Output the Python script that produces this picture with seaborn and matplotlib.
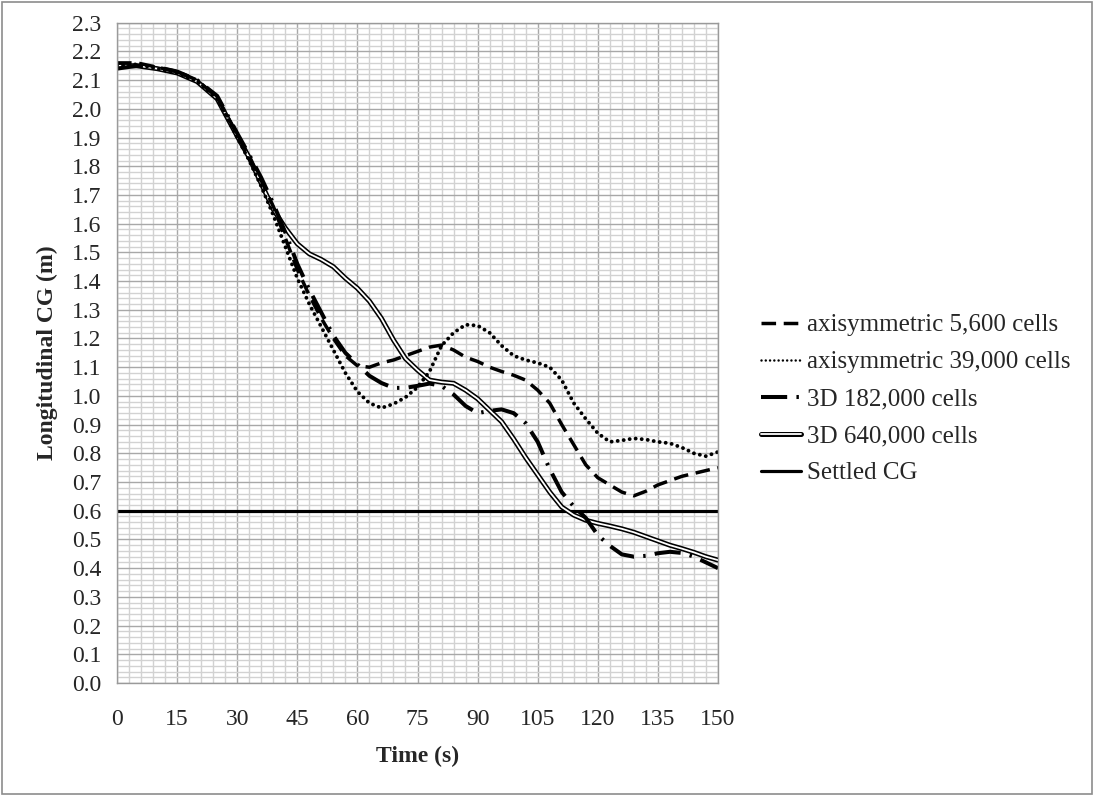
import numpy as np
import pandas as pd
import matplotlib
matplotlib.use("Agg")
import matplotlib.pyplot as plt
from matplotlib.lines import Line2D
from matplotlib.legend_handler import HandlerTuple
from matplotlib.patches import Rectangle
from matplotlib.ticker import MultipleLocator
import seaborn as sns

# ---------------- data ----------------
time_s = [0, 5, 10, 15, 20, 25, 30, 33, 36, 39, 42, 45, 48, 51, 54, 57, 60, 63, 66, 69,
          72, 75, 78, 81, 84, 87, 90, 93, 96, 99, 102, 105, 108, 111, 114, 117, 120, 123,
          126, 129, 132, 135, 138, 141, 144, 147, 150]

axi_5600 = [2.16, 2.16, 2.145, 2.13, 2.10, 2.04, 1.91, 1.83, 1.75, 1.66, 1.55, 1.44, 1.35,
            1.27, 1.20, 1.14, 1.105, 1.10, 1.115, 1.125, 1.14, 1.155, 1.17, 1.177, 1.16,
            1.135, 1.12, 1.10, 1.085, 1.072, 1.055, 1.02, 0.975, 0.90, 0.83, 0.76, 0.715,
            0.69, 0.665, 0.652, 0.668, 0.69, 0.705, 0.72, 0.73, 0.74, 0.75]

axi_39000 = [2.15, 2.155, 2.14, 2.125, 2.095, 2.035, 1.90, 1.82, 1.73, 1.63, 1.52, 1.41, 1.32,
             1.24, 1.16, 1.08, 1.015, 0.975, 0.958, 0.972, 0.995, 1.03, 1.085, 1.175, 1.22,
             1.248, 1.245, 1.22, 1.175, 1.14, 1.125, 1.115, 1.10, 1.055, 0.975, 0.92, 0.87,
             0.84, 0.845, 0.852, 0.848, 0.84, 0.835, 0.82, 0.80, 0.79, 0.805]

d3_182000 = [2.14, 2.15, 2.145, 2.13, 2.10, 2.045, 1.915, 1.84, 1.76, 1.67, 1.57, 1.46, 1.37,
             1.29, 1.21, 1.15, 1.11, 1.07, 1.045, 1.028, 1.028, 1.035, 1.043, 1.035, 1.005,
             0.965, 0.94, 0.948, 0.953, 0.94, 0.905, 0.84, 0.745, 0.665, 0.615, 0.575, 0.515,
             0.478, 0.448, 0.44, 0.443, 0.452, 0.457, 0.453, 0.44, 0.42, 0.40]

d3_640000 = [2.15, 2.15, 2.14, 2.125, 2.095, 2.035, 1.905, 1.83, 1.74, 1.65, 1.585, 1.53, 1.495,
             1.475, 1.45, 1.41, 1.375, 1.33, 1.27, 1.195, 1.13, 1.09, 1.055, 1.048, 1.044,
             1.02, 0.99, 0.95, 0.91, 0.85, 0.785, 0.725, 0.665, 0.613, 0.585, 0.567, 0.556,
             0.547, 0.537, 0.525, 0.51, 0.495, 0.48, 0.468, 0.455, 0.44, 0.428]

settled_cg = 0.6

labels = ["axisymmetric 5,600 cells", "axisymmetric 39,000 cells", "3D 182,000 cells",
          "3D 640,000 cells", "Settled CG"]

df = pd.DataFrame({"t": time_s, "a5600": axi_5600, "a39000": axi_39000,
                   "d182": d3_182000, "d640": d3_640000})
df["settled"] = settled_cg

# ---------------- style ----------------
sns.set_style("white")
plt.rcParams["font.family"] = ["Liberation Serif", "DejaVu Serif"]
FS = 17

fig = plt.figure(figsize=(10.94, 7.96), dpi=100)
ax = fig.add_axes([117 / 1094, 1 - 683 / 796, (718 - 117) / 1094, (683 - 22.7) / 796])

ax.set_xlim(0, 150)
ax.set_ylim(0, 2.3)
ax.xaxis.set_major_locator(MultipleLocator(15))
ax.xaxis.set_minor_locator(MultipleLocator(3))
ax.yaxis.set_major_locator(MultipleLocator(0.1))
ax.yaxis.set_minor_locator(MultipleLocator(0.02))
ax.grid(which="minor", color="#d2d2d2", lw=1.0)
ax.grid(which="major", color="#a8a8a8", lw=1.0)
ax.set_axisbelow(True)
for s in ax.spines.values():
    s.set_color("#9a9a9a")
    s.set_linewidth(1.0)
ax.tick_params(which="major", length=5.5, width=1.0, color="#9a9a9a",
               labelsize=FS, direction="out")
ax.tick_params(axis="x", pad=13)
ax.tick_params(axis="y", pad=6)
ax.tick_params(which="minor", length=0)
ax.yaxis.set_major_formatter(matplotlib.ticker.FormatStrFormatter("%.1f"))

# ---------------- lines ----------------
sns.lineplot(data=df, x="t", y="settled", ax=ax, color="black", lw=2.3)
sns.lineplot(data=df, x="t", y="d640", ax=ax, color="black", lw=3.6,
             solid_joinstyle="round")
sns.lineplot(data=df, x="t", y="d640", ax=ax, color="white", lw=1.3,
             solid_joinstyle="round")
sns.lineplot(data=df, x="t", y="a5600", ax=ax, color="black", lw=2.5)
ax.lines[-1].set_dashes((4.2, 2.2))
sns.lineplot(data=df, x="t", y="a39000", ax=ax, color="black", lw=2.8)
ax.lines[-1].set_dashes((0.01, 1.55))
ax.lines[-1].set_dash_capstyle("round")
sns.lineplot(data=df, x="t", y="d182", ax=ax, color="black", lw=2.9)
ax.lines[-1].set_dashes((6.5, 2.3, 0.6, 2.3))

ax.set_xlabel("Time (s)", fontsize=FS, fontweight="bold", labelpad=12)
ax.set_ylabel("Longitudinal CG (m)", fontsize=FS, fontweight="bold", labelpad=10)

# ---------------- legend ----------------
LFS = 18
h1 = Line2D([], [], color="black", lw=2.5, dashes=(4.2, 2.2))
h2 = Line2D([], [], color="black", lw=1.8, dashes=(0.01, 1.7), dash_capstyle="round")
h3 = Line2D([], [], color="black", lw=2.9, dashes=(6.5, 2.3, 0.6, 2.3))
h4a = Line2D([], [], color="black", lw=3.6)
h4b = Line2D([], [], color="white", lw=1.3)
h5 = Line2D([], [], color="black", lw=2.3)
fig.legend([h1, h2, h3, (h4a, h4b), h5], labels,
           handler_map={tuple: HandlerTuple(ndivide=1, pad=0)},
           loc="center left", bbox_to_anchor=(761 / 1094, 1 - 399 / 796),
           frameon=False, fontsize=LFS, handlelength=1.6, handletextpad=0.25,
           labelspacing=0.58, borderpad=0, borderaxespad=0)

fig.patches.append(Rectangle((0.0015, 0.002), 0.997, 0.996, transform=fig.transFigure,
                             fill=False, edgecolor="#8c8c8c", lw=1.2))

fig.savefig("out.png", dpi=100)
